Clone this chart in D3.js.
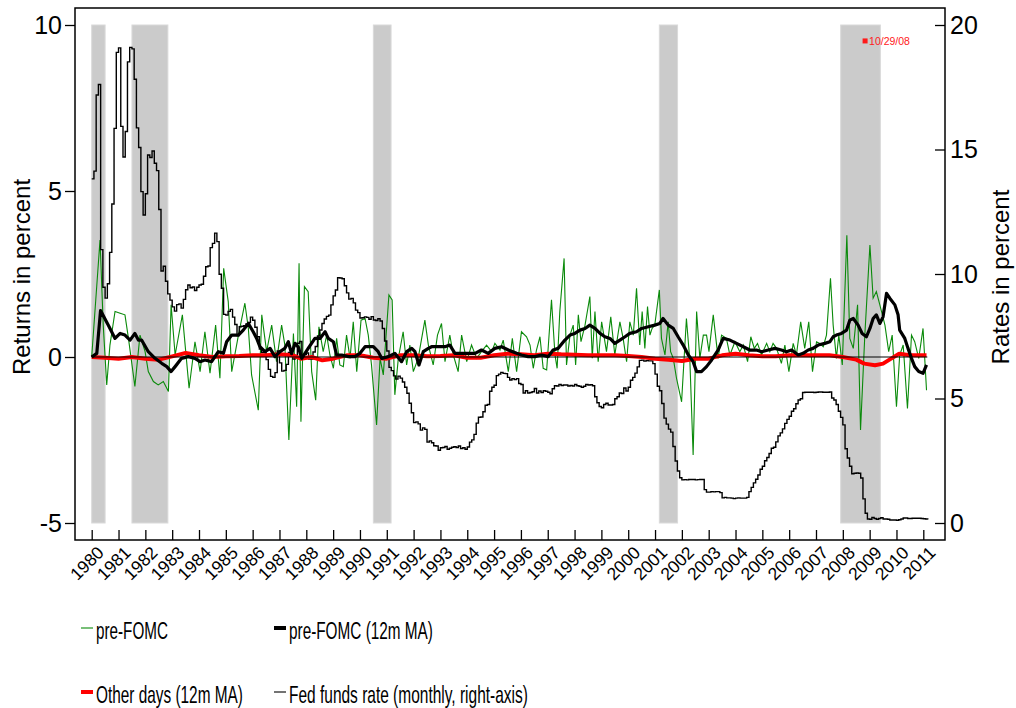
<!DOCTYPE html>
<html>
<head>
<meta charset="utf-8">
<script src="https://cdn.jsdelivr.net/npm/d3@7"></script>
<style>
  body { margin: 0; background: #fff; }
  svg text { font-family: "Liberation Sans", Arial, Helvetica, sans-serif; }
</style>
</head>
<body>
<svg id="chart"></svg>
<script>
// --- data ---
var years = d3.range(1980, 2012);

// NBER recessions, decimal years
var recessions = [[1980.0, 1980.5], [1981.5, 1982.84], [1990.5, 1991.16], [2001.16, 2001.84], [2007.92, 2009.4]];

// pre-FOMC returns (one point per meeting)
var preDates = [1980.00,1980.31,1980.43,1980.56,1980.68,1980.87,1981.06,1981.24,1981.37,1981.61,1981.80,1981.99,
  1982.11,1982.30,1982.48,1982.67,1982.86,1982.96,1983.11,1983.38,1983.63,1983.85,1984.04,1984.22,1984.41,1984.62,
  1984.78,1984.92,1985.09,1985.22,1985.47,1985.71,1985.84,1985.96,1986.21,1986.34,1986.52,1986.71,1986.89,1987.08,
  1987.20,1987.35,1987.52,1987.64,1987.73,1987.80,1987.93,1988.07,1988.20,1988.35,1988.47,1988.63,1988.76,1988.88,
  1989.01,1989.13,1989.25,1989.38,1989.50,1989.63,1989.75,1989.88,1990.04,1990.19,1990.31,1990.43,1990.62,1990.75,
  1990.87,1991.08,1991.20,1991.30,1991.43,1991.61,1991.74,1991.86,1991.99,1992.17,1992.42,1992.55,1992.73,1992.89,
  1993.04,1993.17,1993.35,1993.48,1993.66,1993.79,1993.98,1994.16,1994.35,1994.53,1994.72,1994.91,1995.03,1995.22,
  1995.34,1995.53,1995.68,1995.84,1996.02,1996.21,1996.34,1996.46,1996.58,1996.71,1996.83,1996.96,1997.14,1997.27,
  1997.35,1997.45,1997.61,1997.70,1997.83,1997.95,1998.04,1998.14,1998.24,1998.39,1998.57,1998.66,1998.76,1998.88,
  1999.01,1999.11,1999.19,1999.35,1999.50,1999.69,1999.81,1999.94,2000.06,2000.19,2000.31,2000.43,2000.52,2000.62,
  2000.72,2000.81,2000.89,2000.99,2001.16,2001.24,2001.37,2001.49,2001.58,2001.68,2001.80,2001.99,2002.17,2002.30,
  2002.42,2002.55,2002.67,2002.80,2002.92,2003.01,2003.17,2003.35,2003.48,2003.66,2003.79,2003.98,2004.16,2004.29,
  2004.45,2004.57,2004.70,2004.82,2004.97,2005.16,2005.28,2005.40,2005.53,2005.71,2005.84,2005.99,2006.15,2006.27,
  2006.43,2006.58,2006.73,2006.87,2007.02,2007.14,2007.27,2007.39,2007.54,2007.64,2007.76,2007.85,2007.98,2008.15,
  2008.26,2008.39,2008.55,2008.66,2008.82,2009.01,2009.13,2009.25,2009.38,2009.57,2009.71,2009.84,2010.00,2010.12,
  2010.25,2010.41,2010.56,2010.68,2010.83,2010.99,2011.12];
var preFomc = [0,3.52,0.96,-0.84,0.36,1.37,1.32,1.27,0.56,-0.89,0.66,0.16,
  -0.44,-0.74,-0.84,-0.74,-1.04,1.57,0.06,1.27,-0.94,0.46,-0.44,0.76,-0.49,0.96,
  -0.64,2.67,1.67,-0.44,0.66,1.62,0.86,-0.54,-1.6,1.27,0.16,0.96,-0.14,0.96,
  0.36,-2.5,0.71,-1.5,2.82,-1.95,2.12,1.97,-0.44,-1.3,0.91,0.16,0.66,0.06,
  -0.34,0.56,-0.24,-0.29,0.66,-0.04,1.06,-0.44,1.11,1.16,0.66,-0.24,-2.05,-0.04,
  -0.54,1.87,1.72,-1.14,-0.04,0.76,-0.24,0.36,-0.44,-0.04,1.11,0.36,-0.24,0.66,
  1.01,-0.14,0.66,0.06,-0.44,0.66,-0.14,0.36,-0.04,0.16,0.36,0.16,0.41,0.21,
  0.51,-0.44,0.56,-0.44,0.76,0.61,0.36,-0.34,0.21,0.61,-0.34,-0.39,1.72,0.06,
  -0.34,1.37,2.97,-0.24,0.66,0.96,-0.24,1.27,0.46,0.96,1.82,-0.04,1.37,-0.14,
  1.06,0.56,0.16,1.21,0.06,1.06,0.56,-0.14,1.06,0.66,2.07,0.36,1.37,0.26,
  1.52,0.66,0.86,0.96,2.02,0.56,0.06,1.06,0.16,-0.04,-0.64,-1.35,1.16,-0.14,
  -2.95,1.37,-0.04,0.66,0.66,0.16,1.27,-0.04,0.66,0.56,0.06,0.46,0.16,0.36,
  -0.14,0.61,0.26,0.41,0.06,0.41,0.16,0.41,0.26,-0.19,0.36,-0.44,0.41,0.06,
  1.06,0.26,1.06,-0.44,0.46,0.41,0.31,0.66,2.37,0.96,-0.04,0.66,-0.24,3.67,
  0.56,0.26,1.57,-2.2,0.66,3.37,1.77,1.97,1.57,0.96,0.16,0.66,-1.5,0.06,
  0.36,-1.55,0.66,0.46,-0.04,0.86,-1.0];

// pre-FOMC 12m moving average
var maDates = [1980.00,1980.19,1980.33,1980.62,1980.87,1981.06,1981.24,1981.43,1981.61,1981.74,1981.86,1982.11,
  1982.36,1982.61,1982.80,1982.96,1983.11,1983.35,1983.60,1983.85,1984.04,1984.22,1984.47,1984.72,1984.91,1985.03,
  1985.22,1985.47,1985.65,1985.84,1986.02,1986.15,1986.27,1986.46,1986.65,1986.83,1987.02,1987.20,1987.33,1987.45,
  1987.58,1987.70,1987.83,1988.07,1988.32,1988.51,1988.70,1988.82,1989.01,1989.13,1989.32,1989.57,1989.81,1990.00,
  1990.19,1990.50,1990.68,1990.81,1991.06,1991.30,1991.55,1991.74,1991.93,1992.05,1992.20,1992.36,1992.55,1992.67,
  1992.92,1993.17,1993.35,1993.54,1993.79,1994.04,1994.29,1994.53,1994.78,1995.03,1995.28,1995.53,1995.84,1996.02,
  1996.27,1996.52,1996.77,1997.02,1997.20,1997.39,1997.64,1997.83,1998.01,1998.20,1998.39,1998.57,1998.76,1998.95,
  1999.13,1999.32,1999.50,1999.69,1999.88,2000.06,2000.31,2000.50,2000.75,2000.99,2001.18,2001.30,2001.49,2001.68,
  2001.86,2002.05,2002.24,2002.42,2002.55,2002.73,2002.92,2003.11,2003.35,2003.54,2003.79,2004.04,2004.29,2004.53,
  2004.78,2004.97,2005.22,2005.47,2005.71,2005.90,2006.09,2006.34,2006.52,2006.71,2006.89,2007.08,2007.33,2007.52,
  2007.64,2007.76,2007.95,2008.14,2008.26,2008.39,2008.57,2008.72,2008.88,2009.01,2009.13,2009.25,2009.38,2009.50,
  2009.63,2009.75,2009.94,2010.06,2010.12,2010.31,2010.43,2010.56,2010.68,2010.83,2010.99,2011.12];
var preFomcMA = [0,0.11,1.4,0.96,0.56,0.71,0.66,0.51,0.71,0.51,0.51,0.16,
  -0.04,-0.19,-0.29,-0.44,-0.29,-0.04,0.01,-0.04,-0.14,-0.09,-0.14,0.16,0.11,0.46,
  0.66,0.66,0.81,1.01,0.76,0.56,0.31,0.16,0.26,0.01,0.16,0.26,0.46,0.1,
  0.41,0.3,-0.04,0.26,0.56,0.56,0.76,0.56,0.46,0.06,0.06,0.01,0.01,0.11,
  0.31,0.31,0.16,-0.04,0.01,0.11,-0.14,0.16,0.26,0.16,-0.24,0.16,0.26,0.31,
  0.31,0.31,0.36,0.11,0.11,0.11,0.11,0.21,0.11,0.26,0.31,0.21,0.11,0.06,
  0.01,0.01,0.06,0.01,0.21,0.26,0.51,0.66,0.71,0.81,0.86,0.96,0.86,0.71,
  0.61,0.56,0.41,0.51,0.61,0.71,0.76,0.86,0.91,0.96,1.01,1.16,0.96,0.86,
  0.61,0.36,0.06,-0.14,-0.44,-0.44,-0.29,-0.09,0.21,0.56,0.51,0.41,0.31,0.21,
  0.21,0.16,0.21,0.26,0.21,0.16,0.21,0.06,0.11,0.21,0.26,0.36,0.41,0.46,
  0.61,0.66,0.71,0.81,1.11,1.16,0.96,0.71,0.61,0.86,1.16,1.27,1.01,1.21,
  1.92,1.77,1.57,1.27,0.81,0.56,0.26,-0.04,-0.29,-0.44,-0.49,-0.24];

// other days 12m moving average
var otherDates = [1980.0,1980.5,1981.0,1981.5,1982.0,1982.5,1983.0,1983.5,1984.0,1984.5,1985.0,1985.5,1986.0,1986.5,
  1987.0,1987.5,1987.8,1988.2,1988.6,1989.0,1989.5,1990.0,1990.5,1991.0,1991.5,1992.0,1992.5,1993.0,1993.5,1994.0,
  1994.5,1995.0,1995.5,1996.0,1996.5,1997.0,1997.5,1998.0,1998.5,1999.0,1999.5,2000.0,2000.5,2001.0,2001.5,2002.0,
  2002.5,2003.0,2003.5,2004.0,2004.5,2005.0,2005.5,2006.0,2006.5,2007.0,2007.5,2008.0,2008.5,2008.8,2009.2,2009.5,
  2009.8,2010.1,2010.5,2011.0,2011.12];
var otherMA = [0,-0.02,-0.05,0,-0.05,-0.08,0.02,0.12,0.05,0,0.02,0.03,0.05,0.05,
  0.08,0.05,-0.05,0,-0.1,-0.05,0.05,0.05,-0.02,-0.05,0.05,0.05,0.02,0.03,0.05,-0.02,
  -0.02,0.05,0.1,0.08,0.05,0.1,0.08,0.07,0.05,0.05,0.05,0.03,0,-0.05,-0.08,-0.12,
  -0.05,-0.05,0.05,0.1,0.05,0.02,0.02,0.05,0.05,0.05,0.05,0,-0.08,-0.2,-0.25,-0.2,
  -0.05,0.1,0.05,0.05,0.05];

// effective fed funds rate, monthly from Jan 1980
var fedFunds = [
  13.82,14.13,17.19,17.61,10.98,9.47,9.03,9.61,10.87,12.81,15.85,18.90,
  19.08,15.93,14.70,15.72,18.52,19.10,19.04,17.82,15.87,15.08,13.31,12.37,
  13.22,14.78,14.68,14.94,14.45,14.15,12.59,10.12,10.31,9.71,9.20,8.95,
  8.68,8.51,8.77,8.80,8.63,8.98,9.37,9.56,9.45,9.48,9.34,9.47,
  9.56,9.59,9.91,10.29,10.32,11.06,11.23,11.64,11.30,9.99,9.43,8.38,
  8.35,8.50,8.58,8.27,7.97,7.53,7.88,7.90,7.92,7.99,8.05,8.27,
  8.14,7.86,7.48,6.99,6.85,6.92,6.56,6.17,5.89,5.85,6.04,6.91,
  6.43,6.10,6.13,6.37,6.85,6.73,6.58,6.73,7.22,7.29,6.69,6.77,
  6.83,6.58,6.58,6.87,7.09,7.51,7.75,8.01,8.19,8.30,8.35,8.76,
  9.12,9.36,9.85,9.84,9.81,9.53,9.24,8.99,9.02,8.84,8.55,8.45,
  8.23,8.24,8.28,8.26,8.18,8.29,8.15,8.13,8.20,8.11,7.81,7.31,
  6.91,6.25,6.12,5.91,5.78,5.90,5.82,5.66,5.45,5.21,4.81,4.43,
  4.03,4.06,3.98,3.73,3.82,3.76,3.25,3.30,3.22,3.10,3.09,2.92,
  3.02,3.03,3.07,2.96,3.00,3.04,3.06,3.03,3.09,2.99,3.02,2.96,
  3.05,3.25,3.34,3.56,4.01,4.25,4.26,4.47,4.73,4.76,5.29,5.45,
  5.53,5.92,5.98,6.05,6.01,6.00,5.85,5.74,5.80,5.76,5.80,5.60,
  5.56,5.22,5.31,5.22,5.24,5.27,5.40,5.22,5.30,5.24,5.31,5.29,
  5.25,5.19,5.39,5.51,5.50,5.56,5.52,5.54,5.54,5.50,5.52,5.50,
  5.56,5.51,5.49,5.45,5.49,5.56,5.54,5.55,5.51,5.07,4.83,4.68,
  4.63,4.76,4.81,4.74,4.74,4.76,4.99,5.07,5.22,5.20,5.42,5.30,
  5.45,5.73,5.85,6.02,6.27,6.53,6.54,6.50,6.52,6.51,6.51,6.40,
  5.98,5.49,5.31,4.80,4.21,3.97,3.77,3.65,3.07,2.49,2.09,1.82,
  1.73,1.74,1.73,1.75,1.75,1.75,1.73,1.74,1.75,1.75,1.34,1.24,
  1.24,1.26,1.25,1.26,1.26,1.22,1.01,1.03,1.01,1.01,1.00,0.98,
  1.00,1.01,1.00,1.00,1.00,1.03,1.26,1.43,1.61,1.76,1.93,2.16,
  2.28,2.50,2.63,2.79,3.00,3.04,3.26,3.50,3.62,3.78,4.00,4.16,
  4.29,4.49,4.59,4.79,4.94,4.99,5.24,5.25,5.25,5.25,5.25,5.24,
  5.25,5.26,5.26,5.25,5.25,5.25,5.26,5.02,4.94,4.76,4.49,4.24,
  3.94,2.98,2.61,2.28,1.98,2.00,2.01,2.00,1.81,0.97,0.39,0.16,
  0.15,0.22,0.18,0.15,0.18,0.21,0.16,0.16,0.15,0.12,0.12,0.12,
  0.11,0.13,0.16,0.20,0.20,0.18,0.18,0.19,0.19,0.19,0.19,0.18,
  0.17,0.16,0.14];

var crash = { date: 2008.83, value: 9.52, label: "10/29/08" };

// --- layout ---
var W = 1016, H = 708;
var frame = { left: 75, right: 945, top: 8, bottom: 540 };

var svg = d3.select("#chart").attr("width", W).attr("height", H);

var x = d3.scaleLinear().domain([1980, 2011]).range([91.7, 923.3]);
var yL = d3.scaleLinear().domain([-5, 10]).range([523, 25]);
var yR = d3.scaleLinear().domain([0, 20]).range([523, 25]);

// recession bands
svg.selectAll("rect.rec")
    .data(recessions)
    .enter()
    .append("rect")
    .attr("class", "rec")
    .attr("x", d => x(d[0]))
    .attr("width", d => x(d[1]) - x(d[0]))
    .attr("y", yL(10))
    .attr("height", yL(-5) - yL(10))
    .attr("fill", "#cbcbcb")
    .attr("stroke", "#dadada")
    .attr("stroke-width", 1);

// green pre-FOMC
var greenLine = d3.line().x((d, i) => x(preDates[i])).y(d => yL(d));
svg.append("path")
    .attr("d", greenLine(preFomc))
    .attr("fill", "none")
    .attr("stroke", "#0a8a0a")
    .attr("stroke-width", 1.1);

// fed funds step line
var ffLine = d3.line()
    .x((d, i) => x(1980 + i / 12))
    .y(d => yR(d))
    .curve(d3.curveStepAfter);
svg.append("path")
    .attr("d", ffLine(fedFunds))
    .attr("fill", "none")
    .attr("stroke", "#000")
    .attr("stroke-width", 1.4);

// red other-days MA
var redLine = d3.line().x((d, i) => x(otherDates[i])).y(d => yL(d));
svg.append("path")
    .attr("d", redLine(otherMA))
    .attr("fill", "none")
    .attr("stroke", "#ff0000")
    .attr("stroke-width", 4)
    .attr("stroke-linejoin", "round");

// zero line
svg.append("line")
    .attr("x1", x(1980)).attr("x2", x(2011.15))
    .attr("y1", yL(0)).attr("y2", yL(0))
    .attr("stroke", "#000")
    .attr("stroke-width", 1);

// black pre-FOMC MA
var maLine = d3.line().x((d, i) => x(maDates[i])).y(d => yL(d));
svg.append("path")
    .attr("d", maLine(preFomcMA))
    .attr("fill", "none")
    .attr("stroke", "#000")
    .attr("stroke-width", 3.2)
    .attr("stroke-linejoin", "round");

// 10/29/08 marker
svg.append("rect")
    .attr("x", x(crash.date) - 2.5)
    .attr("y", yL(crash.value) - 2.5)
    .attr("width", 5).attr("height", 5)
    .attr("fill", "#ff1a1a");
svg.append("text")
    .attr("x", x(crash.date) + 4)
    .attr("y", yL(crash.value) + 4)
    .attr("font-size", "10.5px")
    .attr("fill", "#ff1a1a")
    .text(crash.label);

// frame
svg.append("rect")
    .attr("x", frame.left).attr("y", frame.top)
    .attr("width", frame.right - frame.left)
    .attr("height", frame.bottom - frame.top)
    .attr("fill", "none")
    .attr("stroke", "#000")
    .attr("stroke-width", 1.5);

// axes
var leftAxis = svg.append("g")
    .attr("transform", "translate(" + frame.left + ",0)")
    .call(d3.axisLeft(yL).tickValues([-5, 0, 5, 10]).tickFormat(d => String(d)).tickSize(10).tickPadding(3));
var rightAxis = svg.append("g")
    .attr("transform", "translate(" + frame.right + ",0)")
    .call(d3.axisRight(yR).tickValues([0, 5, 10, 15, 20]).tickSize(-10).tickPadding(5));
var bottomAxis = svg.append("g")
    .attr("transform", "translate(0," + frame.bottom + ")")
    .call(d3.axisBottom(x).tickValues(years).tickFormat(d3.format("d")).tickSize(-10));

[leftAxis, rightAxis, bottomAxis].forEach(function (g) {
    g.select(".domain").remove();
    g.selectAll(".tick line").attr("stroke", "#000").attr("stroke-width", 1.3);
    g.selectAll("text").attr("fill", "#000").attr("font-family", null);
});
leftAxis.selectAll("text").attr("font-size", "25px");
rightAxis.selectAll("text").attr("font-size", "25px");

bottomAxis.selectAll(".tick text")
    .attr("font-size", "17.5px")
    .attr("text-anchor", "end")
    .attr("y", 0)
    .attr("dy", "0.71em")
    .attr("transform", "translate(4,5) rotate(-45)");

// axis titles
svg.append("text")
    .attr("transform", "translate(30,277) rotate(-90)")
    .attr("text-anchor", "middle")
    .attr("font-size", "24px")
    .text("Returns in percent");
svg.append("text")
    .attr("transform", "translate(1009,277) rotate(-90)")
    .attr("text-anchor", "middle")
    .attr("font-size", "24px")
    .text("Rates in percent");

// legend (text is narrow in the original, so squeeze it horizontally)
var legend = [
    { label: "pre-FOMC", color: "#0a8a0a", width: 1.1, x: 81, y: 639, len: 72 },
    { label: "pre-FOMC (12m MA)", color: "#000", width: 4, x: 274, y: 639, len: 144 },
    { label: "Other days (12m MA)", color: "#ff0000", width: 4, x: 81, y: 703, len: 147 },
    { label: "Fed funds rate (monthly, right-axis)", color: "#000", width: 1.1, x: 274, y: 703, len: 239 }
];
var lg = svg.selectAll("g.legend")
    .data(legend)
    .enter()
    .append("g")
    .attr("class", "legend");
lg.append("line")
    .attr("x1", d => d.x).attr("x2", d => d.x + 12)
    .attr("y1", d => d.y - 11).attr("y2", d => d.y - 11)
    .attr("stroke", d => d.color)
    .attr("stroke-width", d => d.width);
lg.append("text")
    .attr("font-size", "24px")
    .text(d => d.label)
    .attr("transform", function (d) {
        var w = this.getComputedTextLength();
        return "translate(" + (d.x + 15) + "," + d.y + ") scale(" + (d.len / w) + ",1)";
    });
</script>
</body>
</html>
